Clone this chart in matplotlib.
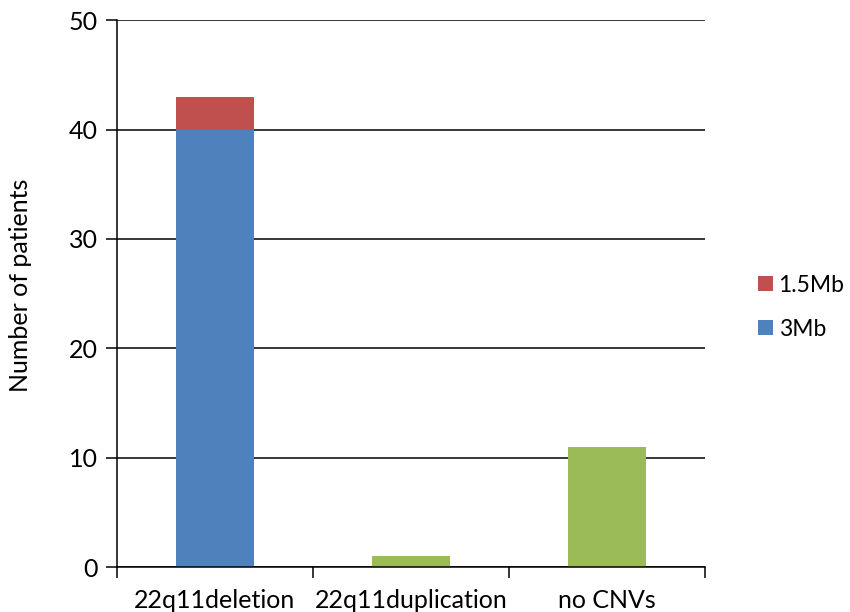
import matplotlib.pyplot as plt
import numpy as np

# Patients per CNV category
categories = ["22q11deletion", "22q11duplication", "no CNVs"]
del_3mb = [40, 0, 0]
del_15mb = [3, 0, 0]
other = [0, 1, 11]

plt.rcParams['font.family'] = ['Lato', 'DejaVu Sans']

fig = plt.figure(figsize=(8.5, 6.12), dpi=100)
ax = fig.add_axes([0.1376, 0.0735, 0.6918, 0.8935])

x = np.arange(len(categories))
w = 0.4
ax.bar(x, other, w, color="#9BBB59", zorder=3)
b1 = ax.bar(x[:1], del_3mb[:1], w, color="#4F81BD", zorder=3, label="3Mb")
b2 = ax.bar(x[:1], del_15mb[:1], w, bottom=del_3mb[:1], color="#C0504D",
            zorder=3, label="1.5Mb")

ax.set_xlim(-0.5, 2.5)
ax.set_ylim(0, 50)
ax.set_yticks(range(0, 51, 10))
ax.yaxis.grid(True, color="black", linewidth=1.1, zorder=0)

# category labels centred, tick marks on the boundaries
ax.set_xticks(x)
ax.set_xticklabels(categories, fontsize=18)
ax.tick_params(axis="x", length=0, pad=16)
ax.set_xticks([-0.5, 0.5, 1.5, 2.5], minor=True)
ax.tick_params(axis="x", which="minor", length=8, width=1.1, direction="out")
ax.tick_params(axis="y", length=8, width=1.1, labelsize=18, pad=6)

for side in ["top", "right"]:
    ax.spines[side].set_visible(False)
for side in ["left", "bottom"]:
    ax.spines[side].set_linewidth(1.1)
    ax.spines[side].set_zorder(4)

ax.set_ylabel("Number of patients", fontsize=18)
ax.yaxis.set_label_coords(-0.145, 0.515)

ax.legend(handles=[b2, b1], loc="center left", bbox_to_anchor=(1.09, 0.475),
          borderaxespad=0, borderpad=0, frameon=False, fontsize=16.5,
          handlelength=0.65, handleheight=0.65, handletextpad=0.25,
          labelspacing=1.0)

fig.savefig("out.png", dpi=100)
